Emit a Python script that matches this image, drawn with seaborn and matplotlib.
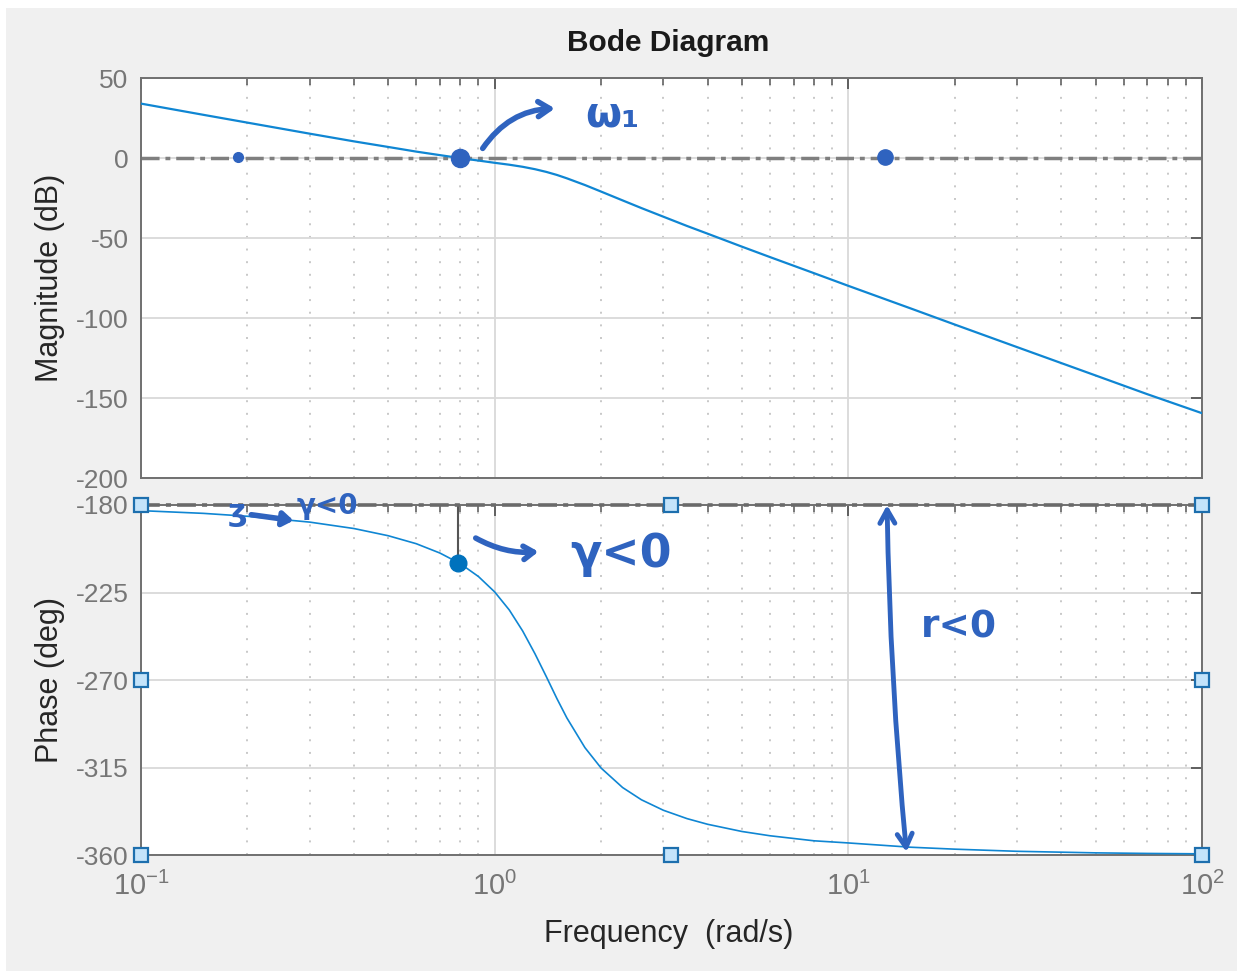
import numpy as np
import pandas as pd
import matplotlib
matplotlib.use("Agg")
import matplotlib.pyplot as plt
from matplotlib.patches import Rectangle
from matplotlib.ticker import LogLocator, FixedLocator, NullFormatter
import seaborn as sns

# Open-loop frequency response (rad/s, dB, deg)
freq = [0.1, 0.15, 0.2, 0.3, 0.4, 0.5, 0.6, 0.7, 0.8, 0.9, 1.0, 1.1, 1.2, 1.3,
        1.4, 1.5, 1.6, 1.8, 2.0, 2.3, 2.6, 3.0, 3.5, 4.0, 5.0, 6.0, 8.0, 10.0,
        15.0, 20.0, 30.0, 50.0, 70.0, 100.0]
magnitude_db = [34.0, 27.0, 22.1, 15.2, 10.4, 6.9, 4.0, 1.8, -0.1, -1.6, -3.0,
                -4.2, -5.5, -7.0, -8.7, -10.6, -12.7, -16.9, -21.0, -26.5,
                -31.3, -36.7, -42.5, -47.3, -55.4, -61.9, -72.0, -79.9, -94.0,
                -104.1, -118.2, -135.9, -147.6, -159.5]
phase_deg = [-182.9, -184.3, -185.8, -188.8, -192.1, -195.8, -199.9, -204.7,
             -210.2, -216.8, -224.7, -234.0, -244.8, -256.5, -268.3, -279.6,
             -289.5, -304.8, -315.3, -325.3, -331.6, -337.0, -341.3, -344.2,
             -347.9, -350.1, -352.7, -353.8, -356.0, -357.0, -358.1, -358.9,
             -359.2, -359.4]

# Gain crossover and phase there
crossover_freq = 0.79
crossover_phase = -209.6

mag_ticks = [50, 0, -50, -100, -150, -200]
phase_ticks = [-180, -225, -270, -315, -360]
freq_ticks = [0.1, 1, 10, 100]
freq_ticklabels = [r"$10^{-1}$", r"$10^{0}$", r"$10^{1}$", r"$10^{2}$"]

# Axes selection handles on the phase plot
handle_freq = [0.1, 3.162, 100, 0.1, 100, 0.1, 3.162, 100]
handle_phase = [-180, -180, -180, -270, -270, -360, -360, -360]

sns.set_theme(style="white")
plt.rcParams["font.family"] = ["Liberation Sans", "DejaVu Sans"]
plt.rcParams["mathtext.fontset"] = "custom"
plt.rcParams["mathtext.rm"] = "Liberation Sans"
plt.rcParams["mathtext.it"] = "Liberation Sans"
plt.rcParams["axes.unicode_minus"] = False

W, H = 1237, 971
fig = plt.figure(figsize=(W / 100, H / 100), dpi=100)
fig.patch.set_facecolor("white")
fig.add_artist(Rectangle((6 / W, 0), 1, 963 / H, transform=fig.transFigure,
                         facecolor="#f0f0f0", edgecolor="none", zorder=-10))

ax1 = fig.add_axes([141 / W, 1 - 478 / H, (1202 - 141) / W, (478 - 78) / H])
ax2 = fig.add_axes([141 / W, 1 - 855 / H, (1202 - 141) / W, (855 - 505) / H])

line_color = "#0f86d3"
hand = "#2f63bf"
tick_label_color = "#767676"
spine_color = "#707070"

df = pd.DataFrame({"freq": freq, "mag": magnitude_db, "phase": phase_deg})

for ax in (ax1, ax2):
    ax.set_facecolor("white")
    ax.set_xscale("log")
    ax.set_xlim(0.1, 100)
    ax.xaxis.set_major_locator(FixedLocator(freq_ticks))
    ax.xaxis.set_minor_locator(LogLocator(base=10, subs=np.arange(2, 10), numticks=20))
    ax.xaxis.set_minor_formatter(NullFormatter())
    ax.grid(True, which="major", color="#d9d9d9", lw=1.3, ls="-")
    ax.grid(True, which="minor", axis="x", color="#c8c8c8", lw=1.4, ls=(0, (1, 5.5)))
    ax.set_axisbelow(True)
    ax.tick_params(which="both", direction="in", top=True, right=True,
                   color="#555555", labelcolor=tick_label_color, labelsize=19)
    ax.tick_params(which="major", length=8, width=1.3)
    ax.tick_params(which="minor", length=5, width=1.1)
    ax.tick_params(axis="y", pad=9)
    ax.tick_params(axis="x", pad=12, labelsize=21)
    for s in ax.spines.values():
        s.set_color(spine_color)
        s.set_linewidth(1.4)

# Magnitude
ax1.axhline(0, color="#7f7f7f", lw=2.5, ls=(0, (5.2, 1.7, 1.4, 1.7)), zorder=2)
sns.lineplot(data=df, x="freq", y="mag", ax=ax1, color=line_color, lw=1.6, zorder=3)
ax1.set_ylim(-200, 50)
ax1.set_yticks(mag_ticks)
ax1.tick_params(labelbottom=False)
ax1.set_xlabel("")
ax1.set_ylabel("")

# Phase
ax2.axhline(-180, color="#6a6a6a", lw=2.6, ls=(0, (5.2, 1.7, 1.4, 1.7)),
            zorder=4, clip_on=False)
sns.lineplot(data=df, x="freq", y="phase", ax=ax2, color=line_color, lw=1.2, zorder=3)
ax2.plot([crossover_freq, crossover_freq], [crossover_phase, -180],
         color="#555555", lw=1.5, zorder=3)
ax2.plot([crossover_freq], [crossover_phase], "o", color="#0072bd", ms=12, zorder=5)
ax2.plot(handle_freq, handle_phase, "s", ms=10, mfc="#c4e4fb", mec="#1d6fae",
         mew=1.6, ls="none", clip_on=False, zorder=6)
ax2.set_ylim(-360, -180)
ax2.set_yticks(phase_ticks)
ax2.set_xticks(freq_ticks)
ax2.set_xticklabels(freq_ticklabels)
ax2.set_xlabel("")
ax2.set_ylabel("")

# Titles and labels
fig.text(668 / W, 1 - 43 / H, "Bode Diagram", ha="center", va="center",
         fontsize=21.5, fontweight="bold", color="#1a1a1a")
fig.text(669 / W, 1 - 934 / H, "Frequency  (rad/s)", ha="center", va="center",
         fontsize=22, color="#262626")
fig.text(50 / W, 1 - 278 / H, "Magnitude (dB)", ha="center", va="center",
         rotation=90, fontsize=22, color="#262626")
fig.text(50 / W, 1 - 680 / H, "Phase (deg)", ha="center", va="center",
         rotation=90, fontsize=22, color="#262626")

# Hand-drawn notes
hw = dict(color=hand, fontweight="bold", family=["DejaVu Sans"], zorder=10)
ax1.plot([0.188], [0.5], "o", color=hand, ms=7, zorder=10)
ax1.plot([0.797], [0], "o", color=hand, ms=13, zorder=10)
ax1.plot([12.7], [0.5], "o", color=hand, ms=11, zorder=10)
ax1.annotate("", xy=(1.48, 31), xytext=(0.925, 6),
             arrowprops=dict(arrowstyle="->,head_length=0.7,head_width=0.45",
                             lw=4, color=hand, connectionstyle="arc3,rad=-0.25",
                             shrinkA=0, shrinkB=0), zorder=10)
ax1.text(2.15, 27, "ω₁", fontsize=30, ha="center", va="center", **hw)

ax2.text(0.187, -184, "ʒ", fontsize=22, ha="center", va="center", **hw)
ax2.annotate("", xy=(0.27, -188), xytext=(0.205, -185),
             arrowprops=dict(arrowstyle="-|>,head_length=0.5,head_width=0.35",
                             lw=4, color=hand, shrinkA=0, shrinkB=0), zorder=10)
ax2.text(0.336, -180.5, "γ<0", fontsize=20, ha="center", va="center",
         clip_on=False, **hw)
ax2.annotate("", xy=(1.33, -204), xytext=(0.884, -197),
             arrowprops=dict(arrowstyle="->,head_length=0.6,head_width=0.4",
                             lw=4, color=hand, connectionstyle="arc3,rad=0.15",
                             shrinkA=0, shrinkB=0), zorder=10)
ax2.text(2.28, -205.5, "γ<0", fontsize=33, ha="center", va="center", **hw)
ax2.annotate("", xy=(14.6, -358.5), xytext=(12.87, -180),
             arrowprops=dict(arrowstyle="<->,head_length=0.8,head_width=0.45",
                             lw=3.5, color=hand, connectionstyle="arc3,rad=0.02",
                             shrinkA=0, shrinkB=0), zorder=10)
ax2.text(20.5, -243, "r<0", fontsize=27, ha="center", va="center", **hw)

fig.savefig("out.png", dpi=100)
